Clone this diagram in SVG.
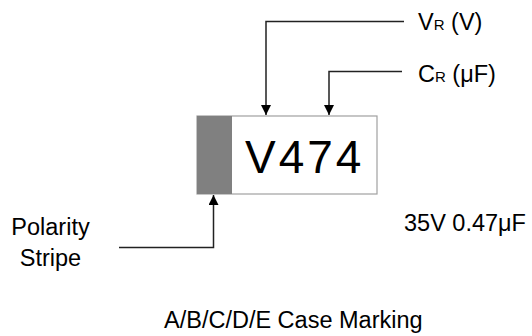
<svg xmlns="http://www.w3.org/2000/svg" width="532" height="336" viewBox="0 0 532 336">
<style>
text{font-family:"Liberation Sans",Arial,sans-serif;fill:#000;font-size:23.5px}
.sub{font-size:15px}
.ln{fill:none;stroke:#222;stroke-width:1.5}
</style>
<defs>
<marker id="ah" viewBox="0 0 10 10" refX="10" refY="5" markerWidth="10" markerHeight="10" markerUnits="userSpaceOnUse" orient="auto">
<path d="M0,0 L10,5 L0,10 Z" fill="#000"/>
</marker>
</defs>
<rect width="532" height="336" fill="#fff"/>
<g id="capacitor">
<rect x="197" y="116" width="180" height="78" fill="#fff" stroke="#a0a0a0" stroke-width="1.2"/>
<rect x="197" y="116" width="35" height="78" fill="#808080"/>
<text x="245" y="172.5" style="font-size:46px" letter-spacing="3">V474</text>
</g>
<g id="connectors">
<path class="ln" d="M404,21.5 H266 V115" marker-end="url(#ah)"/>
<path class="ln" d="M402,71.5 H329 V115" marker-end="url(#ah)"/>
<path class="ln" d="M119,247.5 H213.5 V195" marker-end="url(#ah)"/>
</g>
<g id="label-vr">
<text x="418" y="30">V<tspan class="sub">R</tspan> (V)</text>
</g>
<g id="label-cr">
<text x="418" y="81.5">C<tspan class="sub">R</tspan> (μF)</text>
</g>
<g id="label-polarity">
<text x="50.5" y="235" text-anchor="middle">Polarity</text>
<text x="50.5" y="265.5" text-anchor="middle">Stripe</text>
</g>
<g id="label-rating">
<text x="404" y="230.5">35V 0.47μF</text>
</g>
<g id="label-case">
<text x="164" y="328">A/B/C/D/E Case Marking</text>
</g>
</svg>
